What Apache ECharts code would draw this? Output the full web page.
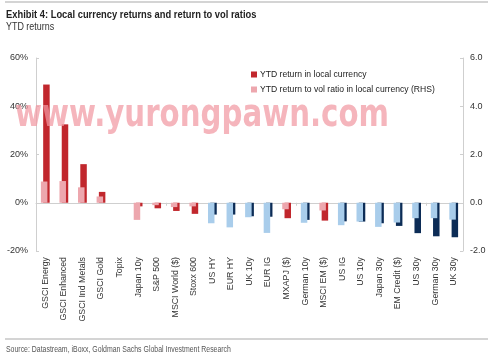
<!DOCTYPE html>
<html><head><meta charset="utf-8">
<script src="https://cdn.jsdelivr.net/npm/echarts@6/dist/echarts.min.js"></script>
<style>html,body{margin:0;padding:0;background:#fff}#c{width:499px;height:360px}</style>
</head><body><div id="c"></div>
<script>
const categories = ["GSCI Energy","GSCI Enhanced","GSCI Ind Metals","GSCI Gold","Topix","Japan 10y","S&P 500","MSCI World ($)","Stoxx 600","US HY","EUR HY","UK 10y","EUR IG","MXAPJ ($)","German 10y","MSCI EM ($)","US IG","US 10y","Japan 30y","EM Credit ($)","US 30y","German 30y","UK 30y"];
const ytdReturn = [49, 32.5, 16, 4.5, 0, -1.5, -2.3, -3.4, -4.6, -4.9, -4.9, -5.6, -5.8, -6.4, -7.1, -7.4, -7.7, -7.8, -8.5, -9.6, -12.6, -13.9, -14.3];
const volRatio = [0.88, 0.9, 0.64, 0.26, 0, -0.71, -0.1, -0.18, -0.15, -0.85, -1.02, -0.6, -1.25, -0.27, -0.83, -0.32, -0.93, -0.78, -1.0, -0.82, -0.64, -0.64, -0.7];
const isBond = [0,0,0,0,0,0,0,0,0,1,1,1,1,0,1,0,1,1,1,1,1,1,1];
const leftTicks = {min:-20, max:60, interval:20};
const rightTicks = {min:-2, max:6, interval:2};

const RED='#c1272d', PINK='#eda7ae', NAVY='#0c2c56', LBLUE='#a9cdeb';
const chart = echarts.init(document.getElementById('c'));
const font = 'Liberation Sans, Arial, sans-serif';
const narrow = 'Liberation Sans, Arial, sans-serif';
chart.setOption({
  animation:false,
  textStyle:{fontFamily:font},
  grid:{left:36,right:36,top:58,bottom:109},
  legend:{orient:'vertical',left:246,top:65,itemWidth:6,itemHeight:6,itemGap:6,
    textStyle:{fontSize:8.6,color:'#222',fontFamily:font,padding:[0,0,0,-2]},
    data:[{name:'YTD return in local currency',icon:'rect'},{name:'YTD return to vol ratio in local currency (RHS)',icon:'rect'}]},
  xAxis:[{type:'category',data:categories,position:'bottom',
      axisLine:{show:false,onZero:false},axisTick:{show:false},
      axisLabel:{rotate:90,interval:0,fontSize:8.8,color:'#333',margin:6}},
    {type:'category',data:categories,position:'bottom',
      axisLine:{show:true,onZero:true,lineStyle:{color:'#cfcfcf',width:1}},
      axisTick:{show:true,length:3,lineStyle:{color:'#cfcfcf'}},
      axisLabel:{show:false}}],
  yAxis:[{type:'value',min:leftTicks.min,max:leftTicks.max,interval:leftTicks.interval,
      axisLine:{show:true,lineStyle:{color:'#cfcfcf'}},axisTick:{show:true,inside:true,length:3,lineStyle:{color:'#cfcfcf'}},
      splitLine:{show:false},axisLabel:{formatter:v=>v+'%',fontSize:9,color:'#333',margin:8}},
    {type:'value',position:'right',min:rightTicks.min,max:rightTicks.max,interval:rightTicks.interval,
      axisLine:{show:true,lineStyle:{color:'#cfcfcf'}},axisTick:{show:true,inside:true,length:3,lineStyle:{color:'#cfcfcf'}},
      splitLine:{show:false},axisLabel:{formatter:v=>v.toFixed(1),fontSize:9,color:'#333',margin:7}}],
  series:[
    {name:'YTD return to vol ratio in local currency (RHS)',type:'bar',yAxisIndex:1,xAxisIndex:0,z:3,
      barWidth:6.5,barGap:'-65%',itemStyle:{color:PINK},
      data:volRatio.map((v,i)=>({value:v,itemStyle:{color:isBond[i]?LBLUE:PINK}}))},
    {name:'YTD return in local currency',type:'bar',yAxisIndex:0,xAxisIndex:0,z:2,
      barWidth:6.5,barGap:'-65%',itemStyle:{color:RED},
      data:ytdReturn.map((v,i)=>({value:v,itemStyle:{color:isBond[i]?NAVY:RED}}))}
  ],
  graphic:[
    {type:'rect',shape:{x:5,y:1,width:483,height:2},style:{fill:'#d4d4d4'}},
    {type:'text',x:6,y:9,scaleX:0.85,style:{text:'Exhibit 4: Local currency returns and return to vol ratios',fontFamily:narrow,fontWeight:'bold',fontSize:11,fill:'#222'}},
    {type:'text',x:6,y:22,scaleX:0.85,style:{text:'YTD returns',fontFamily:narrow,fontSize:10.5,fill:'#333'}},
    {type:'rect',shape:{x:5,y:338,width:483,height:2},style:{fill:'#d4d4d4'}},
    {type:'text',x:6,y:345,scaleX:0.77,style:{text:'Source: Datastream, iBoxx, Goldman Sachs Global Investment Research',fontFamily:narrow,fontSize:9,fill:'#555'}},
    {type:'text',x:15,y:96,scaleX:0.75,z:100,style:{text:'www.yurongpawn.com',fontFamily:'DejaVu Sans, sans-serif',fontWeight:'bold',fontSize:39,fill:'rgba(241,152,162,0.72)'}}
  ]
});
</script></body></html>
